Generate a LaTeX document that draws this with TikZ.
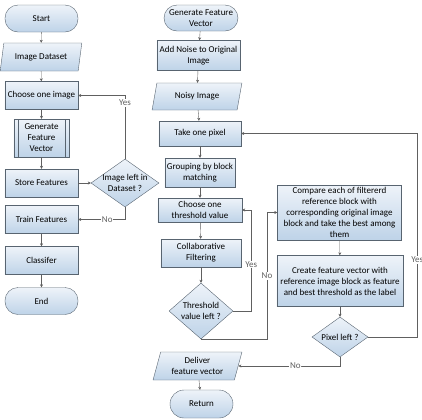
\documentclass[tikz,border=0pt]{standalone}
\usepackage{fontspec}
\setmainfont{Carlito}
\usepackage{tikz}
\usetikzlibrary{positioning}
\usetikzlibrary{shapes.geometric}
\usetikzlibrary{arrows.meta}

\definecolor{boxtop}{RGB}{238,243,249}
\definecolor{boxbot}{RGB}{190,211,232}
\definecolor{boxline}{RGB}{88,100,112}
\definecolor{flowline}{RGB}{96,96,96}

\begin{document}
\begin{tikzpicture}[x=1bp, y=-1bp,
    font=\fontsize{9bp}{11bp}\selectfont,
    every node/.style={draw=boxline, thin, top color=boxtop, bottom color=boxbot, align=center, inner sep=1bp},
    term/.style={rounded corners=13bp, minimum width=73bp, minimum height=27bp},
    proc/.style={rectangle, minimum width=73bp, minimum height=28bp},
    data/.style={trapezium, trapezium left angle=74, trapezium right angle=106, trapezium stretches=true, minimum width=82bp, minimum height=28bp},
    predef/.style={rectangle, minimum width=55bp, minimum height=38bp,
        path picture={\draw[boxline] ([xshift=4bp]path picture bounding box.north west) -- ([xshift=4bp]path picture bounding box.south west);
                      \draw[boxline] ([xshift=-4bp]path picture bounding box.north east) -- ([xshift=-4bp]path picture bounding box.south east);}},
    decision/.style={diamond, inner sep=-12bp},
    lbl/.style={draw=none, fill=white, top color=white, bottom color=white, inner sep=0.5bp},
    arr/.style={-{Stealth[length=3bp, width=3bp]}, flowline, thin}]
            \useasboundingbox (0,0) rectangle (422,420);

            % Nodes, left column
            \node[term] (start) at (41.5,18.5) {Start};
            \node[data] (dataset) at (41,57) {Image Dataset};
            \node[proc] (choose) at (41.5,95.5) {Choose one image};
            \node[predef] (gfv) at (41.5,138) {Generate\\Feature\\Vector};
            \node[proc] (store) at (41.5,183) {Store Features};
            \node[decision, minimum width=68bp, minimum height=48bp] (imgleft) at (125,183) {Image left in\\Dataset ?};
            \node[proc] (train) at (41.5,219.5) {Train Features};
            \node[proc] (classif) at (41.5,260.5) {Classifer};
            \node[term] (stop) at (41.5,301) {End};

            % Nodes, middle column
            \node[term, minimum width=74bp, minimum height=26bp] (gfvstart) at (201,18) {Generate Feature\\Vector};
            \node[proc, minimum width=83bp, minimum height=30bp] (noise) at (198.5,55.5) {Add Noise to Original\\Image};
            \node[data, minimum width=90bp, minimum height=27bp] (noisy) at (197,96.5) {Noisy Image};
            \node[proc, minimum width=82bp, minimum height=25bp] (pixel) at (200,133.5) {Take one pixel};
            \node[proc, minimum width=70bp, minimum height=29bp] (group) at (200,172.5) {Grouping by block\\matching};
            \node[proc, minimum width=84bp, minimum height=24bp] (thresh) at (200,210) {Choose one\\threshold value};
            \node[proc, minimum width=80bp, minimum height=28bp] (collab) at (201,253) {Collaborative\\Filtering};
            \node[decision, minimum width=64bp, minimum height=56bp] (thrleft) at (201,311) {Threshold\\value left ?};
            \node[data, minimum width=89bp, minimum height=28bp] (deliver) at (197.5,366) {Deliver\\feature vector};
            \node[term, minimum width=63bp, minimum height=28bp, rounded corners=14bp] (ret) at (201.5,404) {Return};

            % Nodes, right column
            \node[proc, minimum width=124bp, minimum height=55bp] (compare) at (339.5,212.5) {Compare each of filtererd\\reference block with\\corresponding original image\\block and take the best among\\them};
            \node[proc, minimum width=126bp, minimum height=51bp] (create) at (340,281) {Create feature vector with\\reference image block as feature\\and best threshold as the label};
            \node[decision, minimum width=56bp, minimum height=40bp] (pixleft) at (340,337) {Pixel left ?};

            % Edges
            \draw[arr] (start) -- (dataset);
            \draw[arr] (dataset) -- (choose);
            \draw[arr] (choose) -- (gfv);
            \draw[arr] (gfv) -- (store);
            \draw[arr] (store) -- (imgleft);
            \draw[arr] (imgleft.north) |- node[lbl, pos=0.44] {Yes} (choose.east);
            \draw[arr] (imgleft.south) |- node[lbl, pos=0.69] {No} (train.east);
            \draw[arr] (train) -- (classif);
            \draw[arr] (classif) -- (stop);

            \draw[arr] (gfvstart) -- (noise);
            \draw[arr] (noise) -- (noisy);
            \draw[arr] (noisy) -- (pixel);
            \draw[arr] (pixel) -- (group);
            \draw[arr] (group) -- (thresh);
            \draw[arr] (thresh) -- (collab);
            \draw[arr] (collab) -- (thrleft);
            \draw[arr] (thrleft.east) -- ++(18,0) |- node[lbl, pos=0.23] {Yes} (thresh.east);
            \draw[arr] (thrleft.south) -- ++(66,0) |- node[lbl, pos=0.25] {No} (compare.west);

            \draw[arr] (compare) -- (create);
            \draw[arr] (create) -- (pixleft);
            \draw[arr] (pixleft.east) -- ++(49,0) |- node[lbl, pos=0.19] {Yes} (pixel.east);
            \draw[arr] (pixleft.south) |- node[lbl, pos=0.72] {No} (deliver.east);
            \draw[arr] (deliver) -- (ret);
          \end{tikzpicture}
\end{document}
